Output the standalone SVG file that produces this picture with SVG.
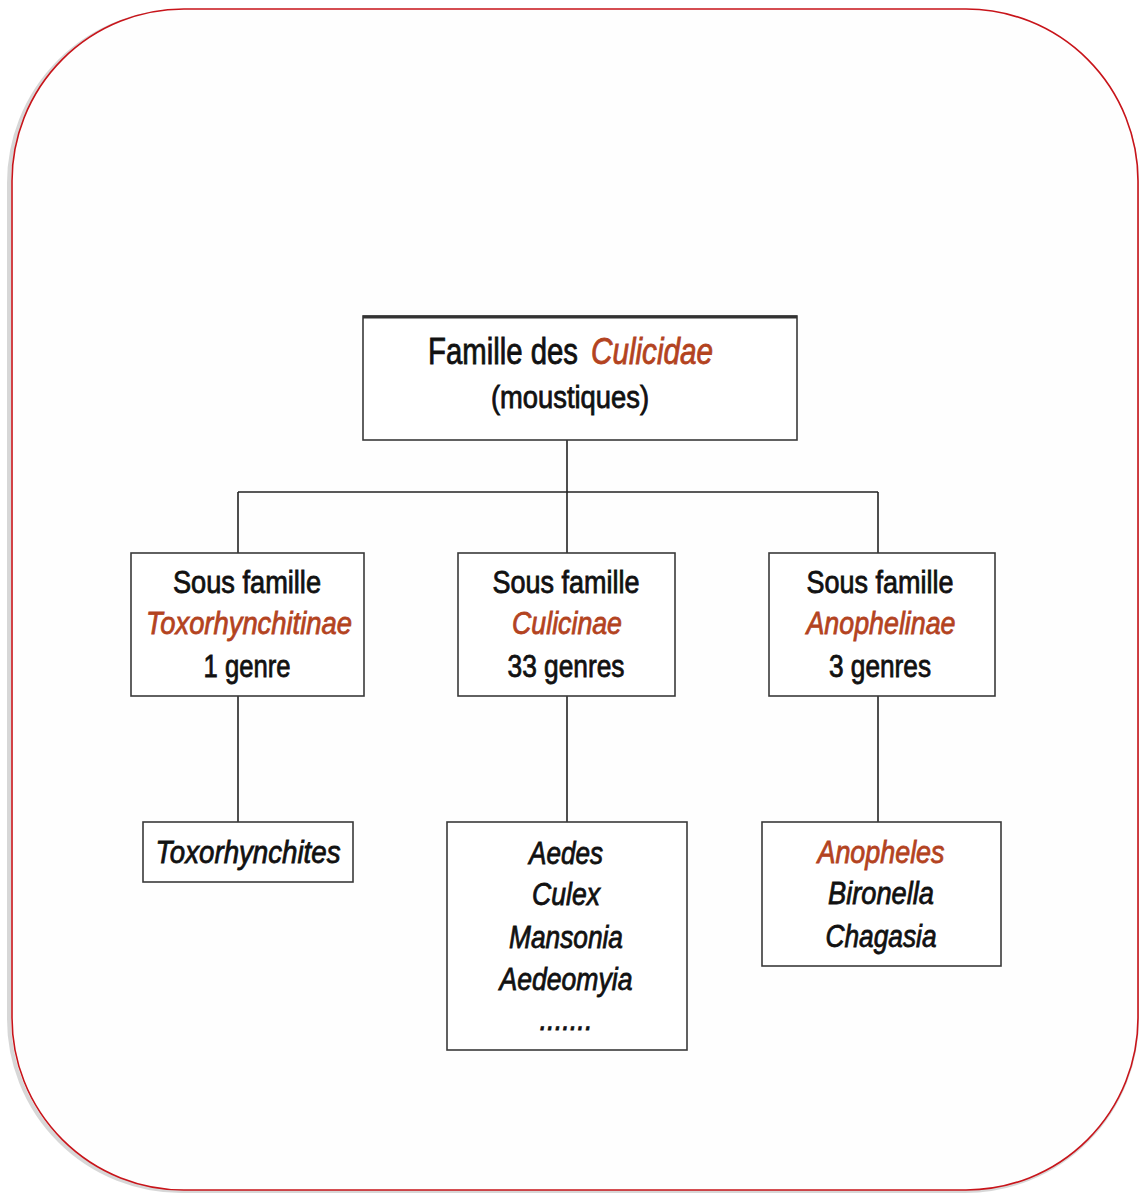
<svg xmlns="http://www.w3.org/2000/svg" width="1141" height="1193" viewBox="0 0 1141 1193">
<defs>
<style>
.box{fill:#ffffff;stroke:#3a3a3a;stroke-width:1.6}
.t{font-family:"Liberation Sans",Arial,sans-serif;font-size:31px;fill:#111;stroke:#111;stroke-width:0.8;text-anchor:middle}
.s{text-anchor:start}
.i{font-style:italic}
.r{fill:#b3431f;stroke:#b3431f}
.con{stroke:#222;stroke-width:1.6;fill:none}
</style>
</defs>
<rect x="0" y="0" width="1141" height="1193" fill="#ffffff"/>
<rect x="9" y="11" width="1128" height="1180" rx="172" ry="172" fill="none" stroke="#bdbdbd" stroke-width="4" opacity="0.6"/>
<rect x="12" y="9" width="1126" height="1181" rx="172" ry="172" fill="#fefefe" stroke="#c8141a" stroke-width="1.6"/>
<g id="connectors">
<line class="con" x1="567" y1="440" x2="567" y2="492"/>
<line class="con" x1="238" y1="492" x2="878" y2="492"/>
<line class="con" x1="238" y1="492" x2="238" y2="553"/>
<line class="con" x1="567" y1="492" x2="567" y2="553"/>
<line class="con" x1="878" y1="492" x2="878" y2="553"/>
<line class="con" x1="238" y1="696" x2="238" y2="822"/>
<line class="con" x1="567" y1="696" x2="567" y2="822"/>
<line class="con" x1="878" y1="696" x2="878" y2="822"/>
</g>
<g id="famille">
<rect class="box" x="363" y="316" width="434" height="124"/>
<line x1="363" y1="317" x2="797" y2="317" stroke="#333" stroke-width="3"/>
<text class="t s" x="428" y="364" style="font-size:36px" textLength="150" lengthAdjust="spacingAndGlyphs">Famille des</text>
<text class="t s i r" x="591" y="364" style="font-size:36px" textLength="122" lengthAdjust="spacingAndGlyphs">Culicidae</text>
<text class="t" x="570" y="408" textLength="158" lengthAdjust="spacingAndGlyphs">(moustiques)</text>
</g>
<g id="toxorhynchitinae">
<rect class="box" x="131" y="553" width="233" height="143"/>
<text class="t" x="247" y="593" textLength="148" lengthAdjust="spacingAndGlyphs">Sous famille</text>
<text class="t i r" x="249" y="634" textLength="206" lengthAdjust="spacingAndGlyphs">Toxorhynchitinae</text>
<text class="t" x="247" y="677" textLength="87" lengthAdjust="spacingAndGlyphs">1 genre</text>
</g>
<g id="culicinae">
<rect class="box" x="458" y="553" width="217" height="143"/>
<text class="t" x="566" y="593" textLength="147" lengthAdjust="spacingAndGlyphs">Sous famille</text>
<text class="t i r" x="567" y="634" textLength="110" lengthAdjust="spacingAndGlyphs">Culicinae</text>
<text class="t" x="566" y="677" textLength="117" lengthAdjust="spacingAndGlyphs">33 genres</text>
</g>
<g id="anophelinae">
<rect class="box" x="769" y="553" width="226" height="143"/>
<text class="t" x="880" y="593" textLength="147" lengthAdjust="spacingAndGlyphs">Sous famille</text>
<text class="t i r" x="881" y="634" textLength="149" lengthAdjust="spacingAndGlyphs">Anophelinae</text>
<text class="t" x="880" y="677" textLength="102" lengthAdjust="spacingAndGlyphs">3 genres</text>
</g>
<g id="toxorhynchites">
<rect class="box" x="143" y="822" width="210" height="60"/>
<text class="t i" x="248" y="863" textLength="185" lengthAdjust="spacingAndGlyphs">Toxorhynchites</text>
</g>
<g id="culicinae-genres">
<rect class="box" x="447" y="822" width="240" height="228"/>
<text class="t i" x="566" y="864" textLength="74" lengthAdjust="spacingAndGlyphs">Aedes</text>
<text class="t i" x="566" y="905" textLength="68" lengthAdjust="spacingAndGlyphs">Culex</text>
<text class="t i" x="566" y="948" textLength="114" lengthAdjust="spacingAndGlyphs">Mansonia</text>
<text class="t i" x="566" y="990" textLength="133" lengthAdjust="spacingAndGlyphs">Aedeomyia</text>
<text class="t i" x="566" y="1030" textLength="53" lengthAdjust="spacingAndGlyphs">.......</text>
</g>
<g id="anophelinae-genres">
<rect class="box" x="762" y="822" width="239" height="144"/>
<text class="t i r" x="881" y="863" textLength="127" lengthAdjust="spacingAndGlyphs">Anopheles</text>
<text class="t i" x="881" y="904" textLength="106" lengthAdjust="spacingAndGlyphs">Bironella</text>
<text class="t i" x="881" y="947" textLength="111" lengthAdjust="spacingAndGlyphs">Chagasia</text>
</g>
</svg>
